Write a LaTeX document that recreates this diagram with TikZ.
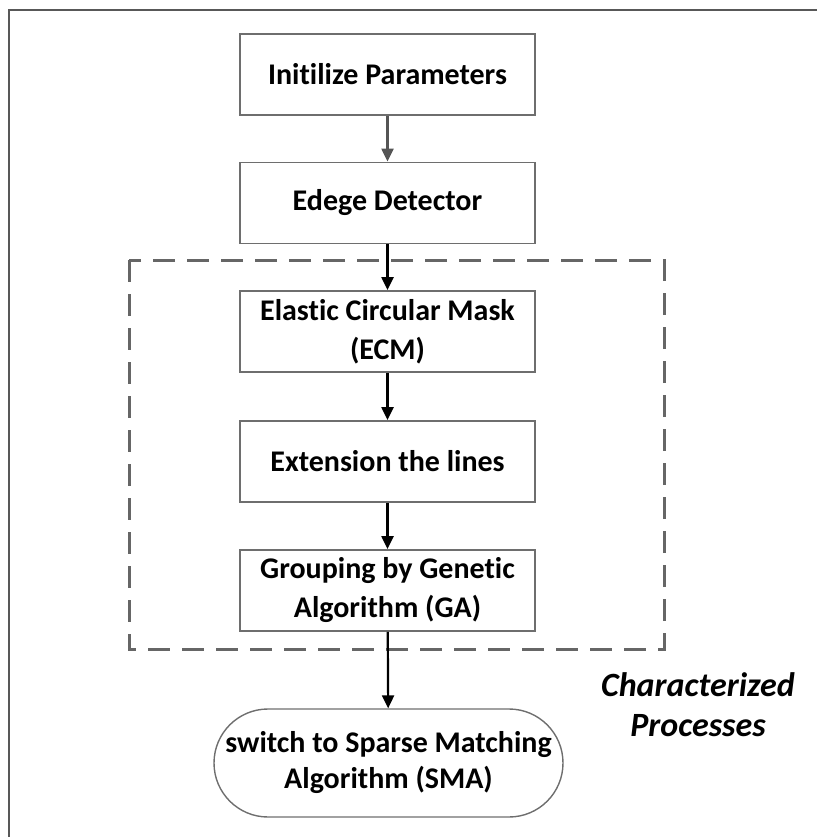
\documentclass[tikz,border=0pt]{standalone}
\usepackage{fontspec}
\setmainfont{Carlito}[Ligatures=NoCommon]
\usetikzlibrary{arrows.meta}
\definecolor{boxgray}{HTML}{6E6E6E}
\definecolor{dashgray}{HTML}{666666}
\definecolor{arrgray}{HTML}{555555}
\tikzset{
  procbox/.style={draw=boxgray, line width=1.8pt, minimum width=295pt, minimum height=81pt,
    align=center, font=\fontsize{30}{39}\selectfont\bfseries, inner sep=0pt},
  endbox/.style={draw=boxgray, line width=1.4pt, minimum width=349pt, minimum height=108pt,
    rounded corners=54pt, align=center, font=\fontsize{30}{36}\selectfont\bfseries, inner sep=0pt},
  flow/.style={line width=2.2pt, -{Triangle[length=13pt,width=12pt]}},
  groupbox/.style={draw=dashgray, line width=3pt, dash pattern=on 22pt off 12pt},
  lbl/.style={align=center, font=\fontsize{34}{40}\selectfont\bfseries\itshape},
}
\begin{document}
\begin{tikzpicture}[x=1pt, y=-1pt]
\useasboundingbox (0,0) rectangle (817,837);
% outer frame (cropped at right and bottom)
\draw[line width=1.6pt, color=boxgray!80!black] (9,837) -- (9,10) -- (817,10);
% dashed group
\draw[groupbox] (129,260) rectangle (664,649);
\node[procbox] (init) at (387.5,74.5) {Initilize Parameters};
\node[procbox] (edge) at (387.5,203) {Edege Detector};
\node[procbox] (ecm) at (387.5,331.5) {Elastic Circular Mask\\(ECM)};
\node[procbox] (ext) at (387.5,461.5) {Extension the lines};
\node[procbox] (ga) at (387.5,590.5) {Grouping by Genetic\\Algorithm (GA)};
\node[endbox] (sma) at (388.5,763) {switch to Sparse Matching\\Algorithm (SMA)};
\node[lbl] (cp) at (698,705) {Characterized\\Processes};
\draw[flow, color=arrgray] (init) -- (edge);
\draw[flow] (edge) -- (ecm);
\draw[flow] (ecm) -- (ext);
\draw[flow] (ext) -- (ga);
\draw[flow] (ga) -- (sma);
\end{tikzpicture}
\end{document}
